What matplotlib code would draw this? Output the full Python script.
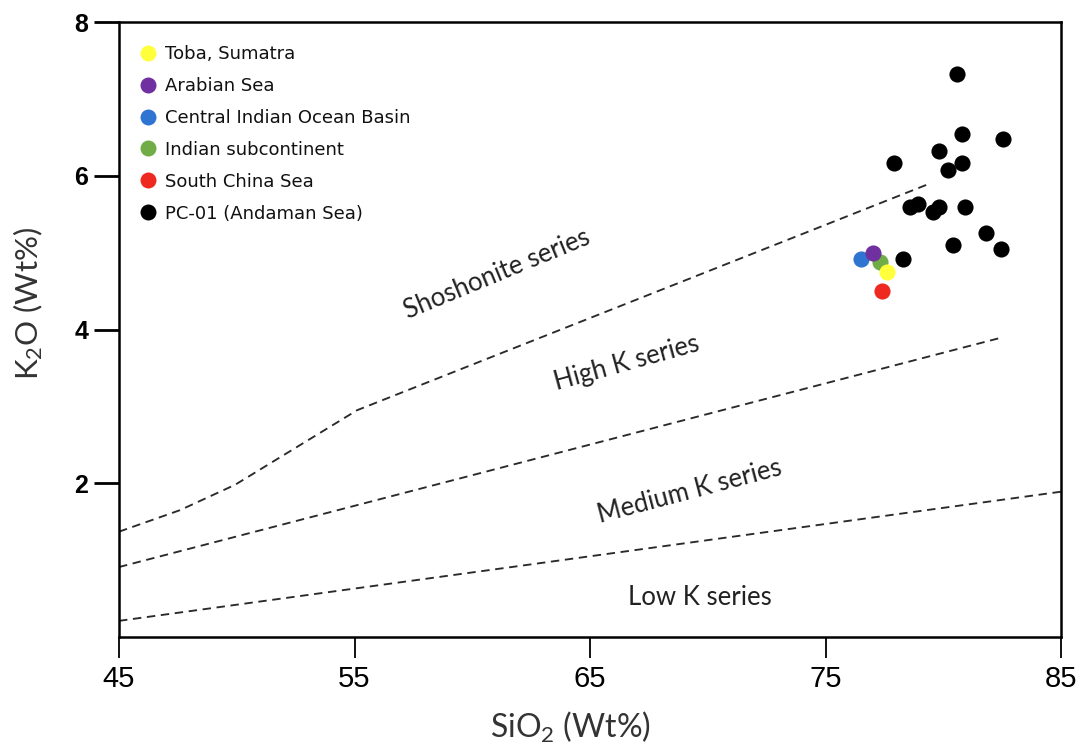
import matplotlib
matplotlib.use("Agg")
import matplotlib.pyplot as plt
from matplotlib.lines import Line2D
from matplotlib import font_manager

# ---------------- data ----------------
pc01_sio2 = [80.57, 80.78, 82.55, 77.92, 79.82, 80.78, 80.22, 78.59, 78.94,
             79.58, 79.83, 80.92, 81.81, 80.43, 82.44, 78.30]
pc01_k2o = [7.33, 6.54, 6.48, 6.17, 6.32, 6.17, 6.07, 5.60, 5.63,
            5.53, 5.60, 5.60, 5.26, 5.10, 5.05, 4.92]

ref_names = ["Toba, Sumatra", "Arabian Sea", "Central Indian Ocean Basin",
             "Indian subcontinent", "South China Sea"]
ref_sio2 = [77.62, 77.00, 76.49, 77.31, 77.38]
ref_k2o = [4.75, 5.00, 4.92, 4.88, 4.50]
ref_colors = ["#FFFF3C", "#7030A0", "#2F74D0", "#70AD47", "#EE2A20"]
draw_order = [2, 3, 1, 0, 4]

# boundary lines (SiO2, K2O)
shosh_x = [45, 47.59, 49.93, 55.11, 79.44]
shosh_y = [1.37, 1.65, 1.98, 2.95, 5.90]
highk_x = [45, 82.54]
highk_y = [0.91, 3.90]
medk_x = [45, 85]
medk_y = [0.21, 1.89]

series_labels = ["Shoshonite series", "High K series", "Medium K series", "Low K series"]
label_x = [61.05, 66.57, 69.25, 69.67]
label_y = [4.72, 3.56, 1.89, 0.52]
label_rot = [22.4, 15.4, 14.8, 0]

xticks = [45, 55, 65, 75, 85]
yticks = [2, 4, 6, 8]

# ---------------- fonts ----------------
avail = {f.name for f in font_manager.fontManager.ttflist}
narrow = "Liberation Sans Narrow" if "Liberation Sans Narrow" in avail else "Liberation Sans"
calib = "Lato"
plt.rcParams['mathtext.fontset'] = 'custom'
plt.rcParams['mathtext.rm'] = calib
plt.rcParams['mathtext.it'] = calib
plt.rcParams['mathtext.bf'] = calib

W, H = 1088, 749
fig = plt.figure(figsize=(W / 100, H / 100), dpi=100)
ax = fig.add_axes([119 / W, 1 - 637 / H, (1061 - 119) / W, (637 - 22) / H])

ax.set_xlim(45, 85)
ax.set_ylim(0, 8)

dash = (4.5, 3)
for xs, ys in [(shosh_x, shosh_y), (highk_x, highk_y), (medk_x, medk_y)]:
    ax.plot(xs, ys, color="#2a2a2a", lw=1.35, linestyle=(0, dash), zorder=2)

for t, x, y, r in zip(series_labels, label_x, label_y, label_rot):
    ax.text(x, y, t, rotation=r, ha="center", va="center", fontsize=18.5,
            family=calib, color="#222222", rotation_mode="anchor")

ms = 135
for i in draw_order:
    ax.scatter(ref_sio2[i], ref_k2o[i], s=ms, color=ref_colors[i], zorder=3,
               linewidths=0)
ax.scatter(pc01_sio2, pc01_k2o, s=ms, color="black", zorder=4, linewidths=0)

handles = [Line2D([], [], marker="o", linestyle="", markersize=11.5,
                  markerfacecolor=c, markeredgewidth=0) for c in ref_colors]
handles.append(Line2D([], [], marker="o", linestyle="", markersize=11.5,
                      markerfacecolor="black", markeredgewidth=0))
leg = ax.legend(handles, ref_names + ["PC-01 (Andaman Sea)"], loc="upper left",
                bbox_to_anchor=(0.002, 0.983), frameon=False,
                prop={"family": "DejaVu Sans", "size": 13},
                handletextpad=0.12, labelspacing=0.77, handlelength=1.6,
                borderaxespad=0.3)
for t in leg.get_texts():
    t.set_color("#111111")

ax.set_xticks(xticks)
ax.set_yticks(yticks)
ax.set_xticklabels([str(v) for v in xticks], family=narrow, fontsize=21)
ax.set_yticklabels([str(v) for v in yticks], family="Liberation Sans",
                   fontweight="bold", fontsize=18)
ax.tick_params(axis="x", length=15, width=1.3, pad=5, direction="out")
ax.tick_params(axis="y", length=18, width=2.0, pad=4, direction="out")
for s in ax.spines.values():
    s.set_linewidth(1.8)
    s.set_color("black")

fig.text(570 / W, 1 - 727 / H, r"SiO$_2$ (Wt%)", ha="center", va="center",
         fontsize=23, family=calib, color="#333333")
fig.text(28 / W, 1 - 303 / H, r"K$_2$O (Wt%)", ha="center", va="center",
         fontsize=22.5, family=calib, color="#333333", rotation=90)

fig.savefig("out.png", dpi=100)
